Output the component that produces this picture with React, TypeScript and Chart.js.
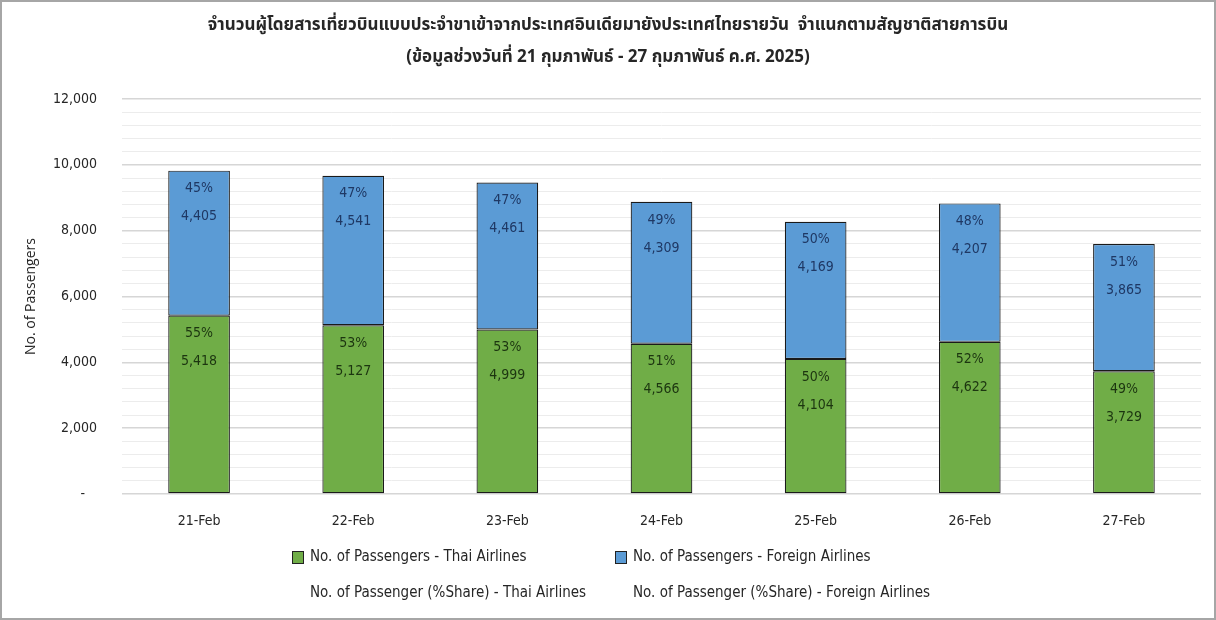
import React, { useEffect, useRef } from "react";
import { Chart, registerables } from "chart.js";

Chart.register(...registerables);

const titleLines = [
  "จำนวนผู้โดยสารเที่ยวบินแบบประจำขาเข้าจากประเทศอินเดียมายังประเทศไทยรายวัน  จำแนกตามสัญชาติสายการบิน",
  "(ข้อมูลช่วงวันที่ 21 กุมภาพันธ์ - 27 กุมภาพันธ์ ค.ศ. 2025)",
];
const categories = ["21-Feb", "22-Feb", "23-Feb", "24-Feb", "25-Feb", "26-Feb", "27-Feb"];
const thaiPassengers = [5418, 5127, 4999, 4566, 4104, 4622, 3729];
const foreignPassengers = [4405, 4541, 4461, 4309, 4169, 4207, 3865];
const thaiShare = [55, 53, 53, 51, 50, 52, 49];
const foreignShare = [45, 47, 47, 49, 50, 48, 51];
const legendLabels = [
  "No. of Passengers - Thai Airlines",
  "No. of Passengers - Foreign Airlines",
  "No. of Passenger (%Share) - Thai Airlines",
  "No. of Passenger (%Share) - Foreign Airlines",
];
const yAxisTitle = "No. of Passengers";

const FONT = "'DejaVu Sans Condensed', 'DejaVu Sans', sans-serif";
const THAI_FONT = "'Noto Sans Thai', 'Noto Sans', 'DejaVu Sans', sans-serif";
const GREEN = "#70ad47";
const BLUE = "#5b9bd5";
const TEXT = "#262626";

const fmt = (v: number) => v.toLocaleString("en-US");

const decorPlugin = {
  id: "decor",
  afterDatasetsDraw(chart: any) {
    const ctx = chart.ctx;
    ctx.save();
    ctx.font = `14px ${FONT}`;
    ctx.textAlign = "center";
    ctx.textBaseline = "middle";
    const shares = [thaiShare, foreignShare];
    const values = [thaiPassengers, foreignPassengers];
    const colors = ["#1c3510", "#1f3864"];
    [0, 1].forEach((di) => {
      const meta = chart.getDatasetMeta(di);
      meta.data.forEach((el: any, i: number) => {
        ctx.fillStyle = colors[di];
        ctx.fillText(shares[di][i] + "%", el.x, el.y + 18);
        ctx.fillText(fmt(values[di][i]), el.x, el.y + 46);
      });
    });
    ctx.restore();
  },
  afterDraw(chart: any) {
    const ctx = chart.ctx;
    ctx.save();
    // title
    ctx.fillStyle = TEXT;
    ctx.textAlign = "center";
    ctx.textBaseline = "middle";
    ctx.font = `bold 17px ${THAI_FONT}`;
    ctx.fillText(titleLines[0], 608, 27);
    ctx.fillText(titleLines[1], 608, 59);
    // legend
    ctx.font = `15px ${FONT}`;
    ctx.textAlign = "left";
    const items = [
      { label: legendLabels[0], color: GREEN, bx: 292, tx: 310, y: 557 },
      { label: legendLabels[1], color: BLUE, bx: 615, tx: 633, y: 557 },
      { label: legendLabels[2], color: null, bx: 292, tx: 310, y: 593 },
      { label: legendLabels[3], color: null, bx: 615, tx: 633, y: 593 },
    ];
    items.forEach((it) => {
      if (it.color) {
        ctx.fillStyle = it.color;
        ctx.fillRect(it.bx, it.y - 6, 12, 13);
        ctx.strokeStyle = "#222";
        ctx.lineWidth = 1;
        ctx.strokeRect(it.bx + 0.5, it.y - 5.5, 11, 12);
      }
      ctx.fillStyle = TEXT;
      ctx.fillText(it.label, it.tx, it.y);
    });
    // frame
    ctx.strokeStyle = "#a6a6a6";
    ctx.lineWidth = 2;
    ctx.strokeRect(1, 1, chart.width - 2, chart.height - 2);
    ctx.restore();
  },
};

export default function App() {
  const ref = useRef<HTMLCanvasElement | null>(null);
  useEffect(() => {
    document.body.style.margin = "0";
    const barStyle = {
      borderColor: "#1a1a1a",
      borderWidth: 1.2,
      borderSkipped: false as const,
      barPercentage: 0.4,
      categoryPercentage: 1,
    };
    const chart = new Chart(ref.current as HTMLCanvasElement, {
      type: "bar",
      data: {
        labels: categories,
        datasets: [
          { label: legendLabels[0], data: thaiPassengers, backgroundColor: GREEN, ...barStyle },
          { label: legendLabels[1], data: foreignPassengers, backgroundColor: BLUE, ...barStyle },
        ],
      },
      options: {
        animation: false,
        responsive: false,
        layout: { padding: { top: 99, left: 0, right: 15, bottom: 86 } },
        plugins: {
          legend: { display: false },
          title: { display: false },
          tooltip: { enabled: false },
        },
        scales: {
          x: {
            stacked: true,
            grid: { display: false, drawTicks: false },
            border: { display: false },
            ticks: { color: TEXT, font: { family: FONT, size: 14 }, padding: 19 },
            afterFit: (s: any) => {
              s.height = 40;
            },
          },
          y: {
            stacked: true,
            min: 0,
            max: 12000,
            grid: {
              drawTicks: false,
              color: (c: any) => (c.tick && c.tick.value % 2000 === 0 ? "#d6d6d6" : "#ececec"),
              lineWidth: (c: any) => (c.tick && c.tick.value % 2000 === 0 ? 1.5 : 1),
            },
            border: { display: false },
            ticks: {
              stepSize: 400,
              autoSkip: false,
              padding: 25,
              color: TEXT,
              font: { family: FONT, size: 14 },
              callback: (v: any) => {
                const n = Number(v);
                if (n === 0) return "-   ";
                return n % 2000 === 0 ? fmt(n) : "";
              },
            },
            title: {
              display: true,
              text: yAxisTitle,
              color: TEXT,
              font: { family: "'Open Sans', sans-serif", size: 14 },
              padding: { top: 23, bottom: 0 },
            },
            afterFit: (s: any) => {
              s.width = 122;
            },
          },
        },
      },
      plugins: [decorPlugin],
    });
    return () => chart.destroy();
  }, []);
  return (
    <div style={{ width: 1216, height: 620, background: "#fff" }}>
      <canvas ref={ref} width={1216} height={620} style={{ display: "block", width: 1216, height: 620 }} />
    </div>
  );
}
